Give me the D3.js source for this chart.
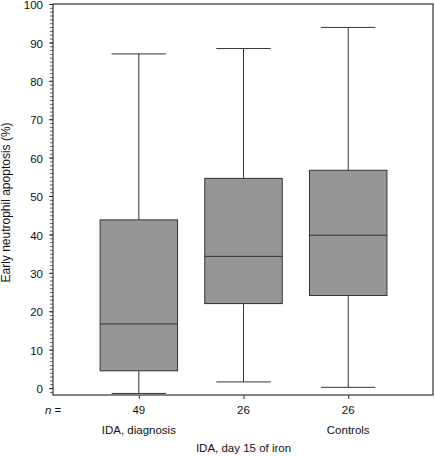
<!DOCTYPE html>
<html><head><meta charset="utf-8">
<script src="https://cdn.jsdelivr.net/npm/d3@7"></script>
<style>
html,body{margin:0;padding:0;background:#fff;}
svg text{font-family:"Liberation Sans",Arial,Helvetica,sans-serif;}
</style>
</head><body>
<svg id="c" width="435" height="456"></svg>
<script>
const categories = ["IDA, diagnosis", "IDA, day 15 of iron", "Controls"];
const nValues = [49, 26, 26];
const whiskerLow = [-1.4, 1.6, 0.2];
const q1 = [4.5, 22.0, 24.1];
const median = [16.7, 34.3, 39.8];
const q3 = [43.8, 54.6, 56.7];
const whiskerHigh = [87.0, 88.4, 93.9];
const yTicks = [0, 10, 20, 30, 40, 50, 60, 70, 80, 90, 100];
const yTitle = "Early neutrophil apoptosis (%)";

const svg = d3.select("#c");
const L = 53, R = 433, T = 4, B = 395;
const x = d3.scaleLinear().domain([0.18, 3.81]).range([L, R]);
const y = d3.scaleLinear().domain([-1.8, 100]).range([B, T]);
const ink = "#333";

// frame
svg.append("rect").attr("x", L).attr("y", T).attr("width", R - L).attr("height", B - T)
  .attr("fill", "none").attr("stroke", ink).attr("stroke-width", 1.2);

// minor y ticks
const minor = d3.range(-1, 101, 1);
svg.append("g").attr("transform", `translate(${L},0)`)
  .call(d3.axisLeft(y).tickValues(minor).tickSize(3).tickFormat(""))
  .call(g => g.select(".domain").remove())
  .call(g => g.selectAll("line").attr("stroke", ink).attr("stroke-width", 0.8));

// major y ticks
svg.append("g").attr("transform", `translate(${L},0)`)
  .call(d3.axisLeft(y).tickValues(yTicks).tickSize(4).tickPadding(6))
  .call(g => g.select(".domain").remove())
  .call(g => g.selectAll("line").attr("stroke", ink))
  .call(g => g.selectAll("text").attr("font-size", 11.5).attr("fill", "#111").attr("dy", "0.4em")
    .attr("font-family", "Liberation Sans, Arial, sans-serif"));

// x ticks
const idx = categories.map((d, i) => i + 1);
svg.append("g").attr("transform", `translate(0,${B})`)
  .call(d3.axisBottom(x).tickValues(idx).tickSize(4).tickFormat(""))
  .call(g => g.select(".domain").remove())
  .call(g => g.selectAll("line").attr("stroke", ink));

// boxes
const bw = 0.37, cw = 0.26;
const data = categories.map((c, i) => ({
  c, i: i + 1, lo: whiskerLow[i], q1: q1[i], med: median[i], q3: q3[i], hi: whiskerHigh[i], n: nValues[i]
}));
const g = svg.append("g");
data.forEach(d => {
  const cx = x(d.i);
  g.append("line").attr("x1", cx).attr("x2", cx).attr("y1", y(d.hi)).attr("y2", y(d.q3)).attr("stroke", ink);
  g.append("line").attr("x1", cx).attr("x2", cx).attr("y1", y(d.q1)).attr("y2", y(d.lo)).attr("stroke", ink);
  g.append("line").attr("x1", x(d.i - cw)).attr("x2", x(d.i + cw)).attr("y1", y(d.hi)).attr("y2", y(d.hi)).attr("stroke", ink);
  g.append("line").attr("x1", x(d.i - cw)).attr("x2", x(d.i + cw)).attr("y1", y(d.lo)).attr("y2", y(d.lo)).attr("stroke", ink);
  g.append("rect").attr("x", x(d.i - bw)).attr("width", x(d.i + bw) - x(d.i - bw))
    .attr("y", y(d.q3)).attr("height", y(d.q1) - y(d.q3))
    .attr("fill", "#969696").attr("stroke", ink).attr("stroke-width", 1);
  g.append("line").attr("x1", x(d.i - bw)).attr("x2", x(d.i + bw)).attr("y1", y(d.med)).attr("y2", y(d.med)).attr("stroke", ink);
  svg.append("text").attr("x", cx).attr("y", 414).attr("text-anchor", "middle")
    .attr("font-size", 11.5).attr("fill", "#111").text(d.n);
  svg.append("text").attr("x", cx).attr("y", d.i === 2 ? 452 : 434).attr("text-anchor", "middle")
    .attr("font-size", 11.5).attr("fill", "#111").text(d.c);
});

// n =
const nt = svg.append("text").attr("x", 45).attr("y", 414).attr("font-size", 11.5).attr("fill", "#111");
nt.append("tspan").attr("font-style", "italic").text("n");
nt.append("tspan").text(" =");

// y title
svg.append("text").attr("transform", `translate(10,${(T + B) / 2 + 3}) rotate(-90)`)
  .attr("text-anchor", "middle").attr("font-size", 12).attr("fill", "#111").text(yTitle);
</script>
</body></html>
